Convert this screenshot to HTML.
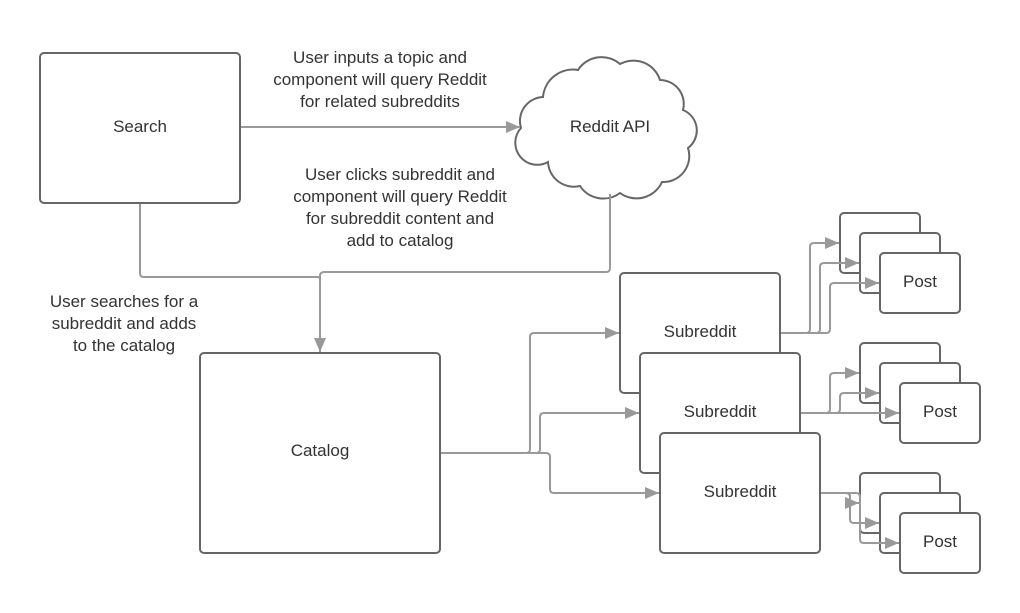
<!DOCTYPE html>
<html><head><meta charset="utf-8"><style>
html,body{margin:0;padding:0;background:#fff;}
svg{display:block;}
text{font-family:"Liberation Sans",sans-serif;font-size:17px;fill:#333;}
</style></head><body>
<svg width="1020" height="613" viewBox="0 0 1020 613" xmlns="http://www.w3.org/2000/svg">
<defs>
<marker id="a" viewBox="0 0 14 12" refX="14" refY="6" markerWidth="14" markerHeight="12" markerUnits="userSpaceOnUse" orient="auto"><path d="M0,0 L14,6 L0,12 Z" fill="#999"/></marker>
</defs>
<g fill="#fff" stroke="#666" stroke-width="2">
<rect x="40" y="53" width="200" height="150" rx="4"/>
<rect x="200" y="353" width="240" height="200" rx="4"/>
<rect x="620" y="273" width="160" height="120" rx="4"/>
<rect x="640" y="353" width="160" height="120" rx="4"/>
<rect x="660" y="433" width="160" height="120" rx="4"/>
<rect x="840" y="213" width="80" height="60" rx="4"/>
<rect x="860" y="233" width="80" height="60" rx="4"/>
<rect x="880" y="253" width="80" height="60" rx="4"/>
<rect x="860" y="343" width="80" height="60" rx="4"/>
<rect x="880" y="363" width="80" height="60" rx="4"/>
<rect x="900" y="383" width="80" height="60" rx="4"/>
<rect x="860" y="473" width="80" height="60" rx="4"/>
<rect x="880" y="493" width="80" height="60" rx="4"/>
<rect x="900" y="513" width="80" height="60" rx="4"/>
<path d="M521,128 A24,24 0 0 1 543,97 A30,30 0 0 1 578,70 A28,28 0 0 1 620,64 A28,28 0 0 1 660,80 A24,24 0 0 1 683,110 A22,22 0 0 1 688,148 A26,26 0 0 1 662,182 A28,28 0 0 1 620,193 A28,28 0 0 1 580,186 A26,26 0 0 1 548,162 A22,22 0 0 1 521,128 Z"/>
</g>
<g fill="none" stroke="#999" stroke-width="2">
<path d="M241,127 H520" marker-end="url(#a)"/>
<path d="M140,204 V273 Q140,277 144,277 H318 Q320,277 320,280"/>
<path d="M610,194 V268 Q610,272 606,272 H324 Q320,272 320,276 V352" marker-end="url(#a)"/>
<path d="M441,453 H526 Q530,453 530,449 V337 Q530,333 534,333 H619" marker-end="url(#a)"/>
<path d="M441,453 H536 Q540,453 540,449 V417 Q540,413 544,413 H639" marker-end="url(#a)"/>
<path d="M441,453 H546 Q550,453 550,457 V489 Q550,493 554,493 H659" marker-end="url(#a)"/>
<path d="M781,333 H806 Q810,333 810,329 V247 Q810,243 814,243 H839" marker-end="url(#a)"/>
<path d="M781,333 H816 Q820,333 820,329 V267 Q820,263 824,263 H859" marker-end="url(#a)"/>
<path d="M781,333 H826 Q830,333 830,329 V287 Q830,283 834,283 H879" marker-end="url(#a)"/>
<path d="M801,413 H826 Q830,413 830,409 V377 Q830,373 834,373 H859" marker-end="url(#a)"/>
<path d="M801,413 H836 Q840,413 840,409 V397 Q840,393 844,393 H879" marker-end="url(#a)"/>
<path d="M801,413 H899" marker-end="url(#a)"/>
<path d="M821,493 H846 Q850,493 850,497 V503 H859" marker-end="url(#a)"/>
<path d="M821,493 H846 Q850,493 850,497 V519 Q850,523 854,523 H879" marker-end="url(#a)"/>
<path d="M821,493 H856 Q860,493 860,497 V539 Q860,543 864,543 H899" marker-end="url(#a)"/>
</g>
<g text-anchor="middle">
<text x="140" y="132">Search</text>
<text x="320" y="456">Catalog</text>
<text x="610" y="132">Reddit API</text>
<text x="700" y="337">Subreddit</text>
<text x="720" y="417">Subreddit</text>
<text x="740" y="497">Subreddit</text>
<text x="920" y="287">Post</text>
<text x="940" y="417">Post</text>
<text x="940" y="547">Post</text>
<text x="380" y="63">User inputs a topic and</text>
<text x="380" y="85">component will query Reddit</text>
<text x="380" y="107">for related subreddits</text>
<text x="400" y="180">User clicks subreddit and</text>
<text x="400" y="202">component will query Reddit</text>
<text x="400" y="224">for subreddit content and</text>
<text x="400" y="246">add to catalog</text>
<text x="124" y="307">User searches for a</text>
<text x="124" y="329">subreddit and adds</text>
<text x="124" y="351">to the catalog</text>
</g>
</svg>
</body></html>
